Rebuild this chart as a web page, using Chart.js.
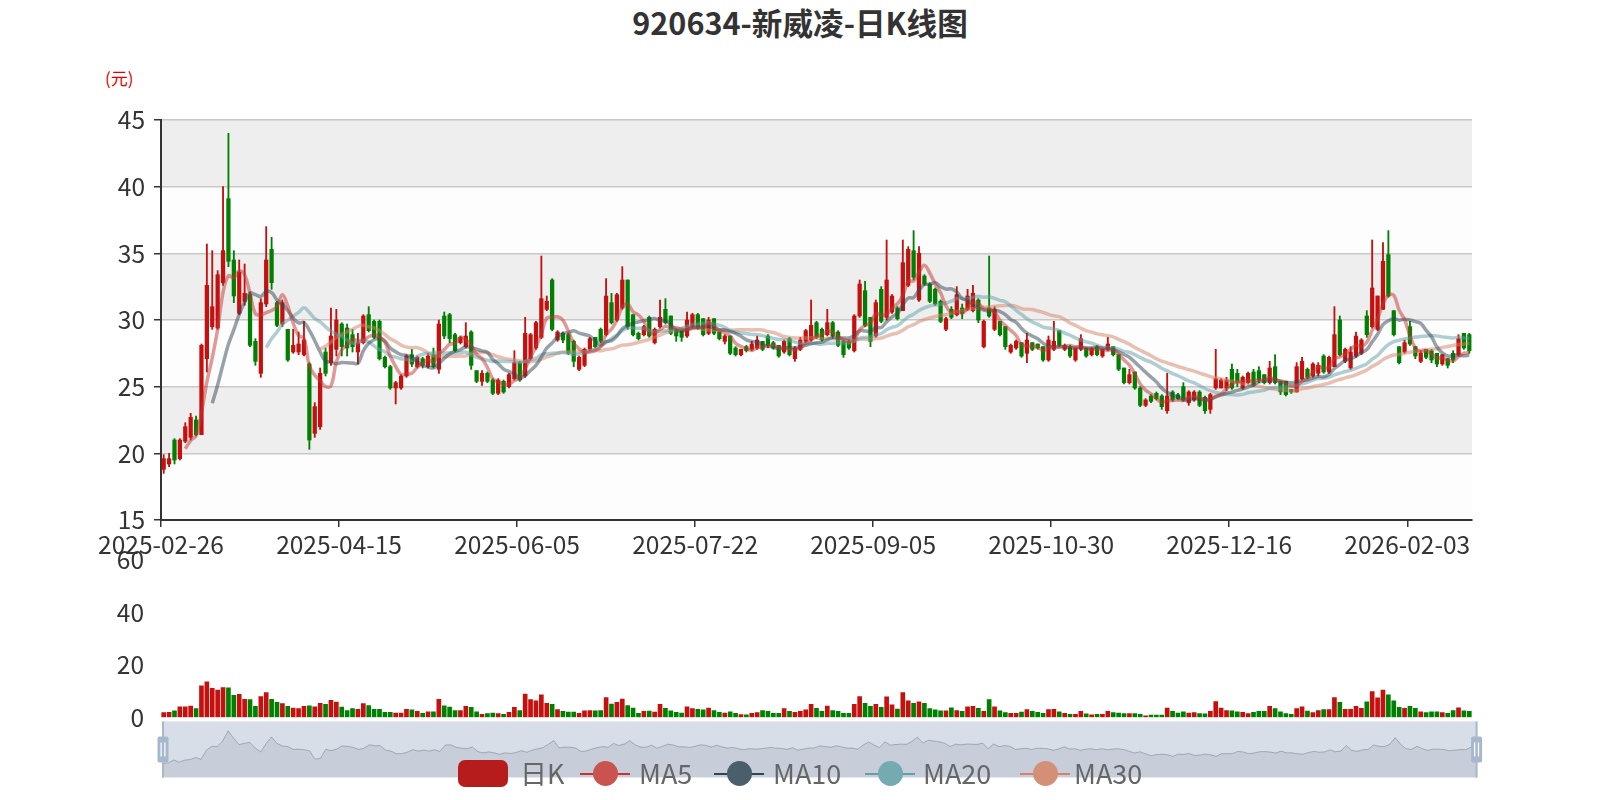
<!DOCTYPE html>
<html><head><meta charset="utf-8">
<script src="https://cdn.jsdelivr.net/npm/chart.js@4.4.1/dist/chart.umd.min.js"></script>
<style>
html,body{margin:0;padding:0;background:#fff;width:1600px;height:800px;overflow:hidden;font-family:"Noto Sans CJK SC","Noto Sans",sans-serif;}
canvas{position:absolute;}
#title{position:absolute;left:0;top:2px;width:1600px;text-align:center;font-weight:bold;font-size:30.6px;line-height:40px;color:#333;}
#unit{position:absolute;left:105px;top:66px;font-size:17px;line-height:24px;color:#e00000;}
.lg{position:absolute;top:760px;height:27px;line-height:27px;font-size:27px;color:#666;white-space:nowrap;}
.kicon{position:absolute;top:0;width:50px;height:27px;border-radius:7px;background:#b71c1c;}
.licon{position:absolute;top:0;width:50px;height:27px;}
.licon .ln{position:absolute;left:0;top:12.5px;width:50px;height:2px;}
.licon .dt{position:absolute;left:13px;top:1px;width:25px;height:25px;border-radius:50%;}
.lg .tx{position:absolute;top:-1px;}
</style></head>
<body>
<div id="title">920634-新威凌-日K线图</div>
<div id="unit">(元)</div>
<canvas id="c1" width="1600" height="575" style="left:0;top:0"></canvas>
<canvas id="c2" width="1600" height="221" style="left:0;top:528px"></canvas>
<canvas id="c3" width="1340" height="64" style="left:150px;top:718px"></canvas>
<div class="lg" style="left:0"><span class="kicon" style="left:458px"></span><span class="tx" style="left:520px">日K</span></div>
<div class="lg" style="left:0"><span class="licon" style="left:580px"><span class="ln" style="background:#c23531"></span><span class="dt" style="background:#c9534f"></span></span><span class="tx" style="left:639px">MA5</span></div>
<div class="lg" style="left:0"><span class="licon" style="left:714px"><span class="ln" style="background:#2f4554"></span><span class="dt" style="background:#4a5e6c"></span></span><span class="tx" style="left:773px">MA10</span></div>
<div class="lg" style="left:0"><span class="licon" style="left:865px"><span class="ln" style="background:#61a0a8"></span><span class="dt" style="background:#74aab1"></span></span><span class="tx" style="left:923px">MA20</span></div>
<div class="lg" style="left:0"><span class="licon" style="left:1020px"><span class="ln" style="background:#d48265"></span><span class="dt" style="background:#d48f77"></span></span><span class="tx" style="left:1074px">MA30</span></div>
<script>
const dates = ['2025-02-26','2025-02-27','2025-02-28',
'2025-03-03','2025-03-04','2025-03-05','2025-03-06','2025-03-07','2025-03-10','2025-03-11','2025-03-12','2025-03-13','2025-03-14','2025-03-17','2025-03-18','2025-03-19','2025-03-20','2025-03-21','2025-03-24','2025-03-25','2025-03-26','2025-03-27','2025-03-28','2025-03-31',
'2025-04-01','2025-04-02','2025-04-03','2025-04-07','2025-04-08','2025-04-09','2025-04-10','2025-04-11','2025-04-14','2025-04-15','2025-04-16','2025-04-17','2025-04-18','2025-04-21','2025-04-22','2025-04-23','2025-04-24','2025-04-25','2025-04-28','2025-04-29','2025-04-30',
'2025-05-06','2025-05-07','2025-05-08','2025-05-09','2025-05-12','2025-05-13','2025-05-14','2025-05-15','2025-05-16','2025-05-19','2025-05-20','2025-05-21','2025-05-22','2025-05-23','2025-05-26','2025-05-27','2025-05-28','2025-05-29','2025-05-30',
'2025-06-03','2025-06-04','2025-06-05','2025-06-06','2025-06-09','2025-06-10','2025-06-11','2025-06-12','2025-06-13','2025-06-16','2025-06-17','2025-06-18','2025-06-19','2025-06-20','2025-06-23','2025-06-24','2025-06-25','2025-06-26','2025-06-27','2025-06-30',
'2025-07-01','2025-07-02','2025-07-03','2025-07-04','2025-07-07','2025-07-08','2025-07-09','2025-07-10','2025-07-11','2025-07-14','2025-07-15','2025-07-16','2025-07-17','2025-07-18','2025-07-21','2025-07-22','2025-07-23','2025-07-24','2025-07-25','2025-07-28','2025-07-29','2025-07-30','2025-07-31',
'2025-08-01','2025-08-04','2025-08-05','2025-08-06','2025-08-07','2025-08-08','2025-08-11','2025-08-12','2025-08-13','2025-08-14','2025-08-15','2025-08-18','2025-08-19','2025-08-20','2025-08-21','2025-08-22','2025-08-25','2025-08-26','2025-08-27','2025-08-28','2025-08-29',
'2025-09-01','2025-09-02','2025-09-03','2025-09-04','2025-09-05','2025-09-08','2025-09-09','2025-09-10','2025-09-11','2025-09-12','2025-09-15','2025-09-16','2025-09-17','2025-09-18','2025-09-19','2025-09-22','2025-09-23','2025-09-24','2025-09-25','2025-09-26','2025-09-29','2025-09-30',
'2025-10-09','2025-10-10','2025-10-13','2025-10-14','2025-10-15','2025-10-16','2025-10-17','2025-10-20','2025-10-21','2025-10-22','2025-10-23','2025-10-24','2025-10-27','2025-10-28','2025-10-29','2025-10-30','2025-10-31',
'2025-11-03','2025-11-04','2025-11-05','2025-11-06','2025-11-07','2025-11-10','2025-11-11','2025-11-12','2025-11-13','2025-11-14','2025-11-17','2025-11-18','2025-11-19','2025-11-20','2025-11-21','2025-11-24','2025-11-25','2025-11-26','2025-11-27','2025-11-28',
'2025-12-01','2025-12-02','2025-12-03','2025-12-04','2025-12-05','2025-12-08','2025-12-09','2025-12-10','2025-12-11','2025-12-12','2025-12-15','2025-12-16','2025-12-17','2025-12-18','2025-12-19','2025-12-22','2025-12-23','2025-12-24','2025-12-25','2025-12-26','2025-12-29','2025-12-30','2025-12-31',
'2026-01-05','2026-01-06','2026-01-07','2026-01-08','2026-01-09','2026-01-12','2026-01-13','2026-01-14','2026-01-15','2026-01-16','2026-01-19','2026-01-20','2026-01-21','2026-01-22','2026-01-23','2026-01-26','2026-01-27','2026-01-28','2026-01-29','2026-01-30',
'2026-02-02','2026-02-03','2026-02-04','2026-02-05','2026-02-06','2026-02-09','2026-02-10','2026-02-11','2026-02-12','2026-02-13','2026-02-24','2026-02-25','2026-02-26'];

const tickLabels = ['2025-02-26','2025-04-15','2025-06-05','2025-07-22','2025-09-05','2025-10-30','2025-12-16','2026-02-03'];
const priceTicks = [15,20,25,30,35,40,45];
const volumeTicks = [0,20,40,60];

const openP = [18.8,19.2,21.0,19.6,20.9,21.2,22.5,21.4,27.1,29.5,29.4,32.8,39.1,34.5,30.5,31.4,31.9,28.4,26.0,31.2,
35.3,31.3,29.7,29.3,27.6,27.6,27.4,26.7,21.5,22.0,27.6,26.8,27.8,29.7,29.4,28.9,27.6,28.3,30.4,29.9,
29.9,27.2,26.5,24.9,24.9,25.8,27.4,26.5,27.1,26.5,27.4,26.3,30.3,30.4,28.9,28.3,28.0,29.1,26.2,25.4,
26.0,25.5,24.5,25.4,25.0,25.6,26.8,25.8,27.1,27.9,28.7,30.8,33.0,28.5,29.0,28.9,28.4,26.3,26.6,27.8,
28.7,29.3,28.9,31.3,30.0,30.9,33.0,30.4,29.0,28.9,30.2,28.3,29.5,30.8,30.3,29.2,29.2,28.8,29.5,30.4,
30.1,29.0,30.1,29.1,28.4,28.8,27.9,27.4,28.0,27.8,27.9,28.4,28.8,28.3,28.1,27.6,28.6,27.1,27.8,28.4,
28.5,29.8,29.3,28.9,29.8,29.1,28.4,28.4,27.7,30.3,32.2,30.2,28.8,32.3,30.2,30.6,30.9,30.7,32.6,35.2,
31.5,33.3,32.7,32.3,31.4,29.3,30.8,30.4,30.9,30.8,30.7,31.5,28.0,30.9,29.3,29.9,29.5,27.6,27.9,28.3,
27.5,28.3,28.2,28.0,27.0,27.8,29.2,27.8,28.0,27.0,27.8,27.9,27.4,28.0,27.3,27.8,28.0,27.4,26.4,25.3,
26.1,24.9,23.6,24.3,24.5,24.3,23.2,24.6,24.4,25.0,23.8,24.0,24.6,24.2,23.3,24.9,24.9,24.9,26.3,26.0,
24.9,25.3,26.1,26.2,25.9,25.3,26.5,25.4,25.4,24.8,24.6,25.6,26.3,25.8,26.0,27.3,26.1,26.5,30.0,26.9,
26.4,27.3,27.5,30.3,29.5,29.3,30.8,34.9,30.7,28.0,27.6,29.5,28.0,26.9,27.8,27.7,27.5,26.7,27.1,27.5,
27.4,29.0,28.9];

const closeP = [19.6,19.6,19.5,21.0,22.0,22.7,21.4,28.1,32.6,31.0,33.4,35.2,34.4,31.8,33.6,32.0,28.1,26.9,31.3,34.5,
32.8,29.6,31.3,27.0,28.1,28.2,28.5,21.0,23.5,26.0,26.0,28.8,30.0,28.0,27.9,28.0,28.3,30.3,29.2,28.7,
27.1,26.5,24.9,25.3,25.8,27.3,26.7,27.2,26.6,27.3,26.5,29.7,28.8,28.6,27.7,28.7,28.8,26.6,25.4,26.0,
25.4,24.5,25.5,24.6,25.9,26.8,25.5,29.0,28.9,29.8,31.6,31.4,29.3,29.1,28.5,27.5,26.9,27.2,27.8,28.6,
28.0,28.4,31.8,29.8,31.9,33.0,29.5,28.9,28.6,29.5,28.8,29.3,30.2,29.8,29.0,28.8,28.7,30.0,30.4,29.4,
28.9,30.0,29.0,28.6,28.8,27.5,27.4,27.8,27.7,28.2,28.5,27.8,28.1,27.9,27.3,28.4,27.4,27.9,28.5,29.2,
29.6,28.7,28.5,29.8,28.8,28.1,27.4,27.9,30.3,32.7,29.6,28.4,31.3,29.9,33.0,31.8,30.1,34.3,35.3,33.2,
35.0,32.7,31.4,31.2,29.9,30.1,30.2,31.9,30.5,31.8,32.0,30.0,29.9,30.3,30.8,28.9,28.0,28.1,28.4,27.3,
28.5,27.8,27.9,27.0,28.5,28.4,28.1,28.1,27.3,27.9,28.6,27.3,27.9,27.4,27.8,28.2,27.4,26.3,25.3,25.9,
24.9,23.6,24.0,23.9,24.1,23.5,24.3,24.0,24.1,24.0,24.6,24.6,23.6,23.2,24.4,25.6,25.5,25.5,24.9,25.3,
25.7,26.0,25.1,25.5,25.3,26.4,25.3,24.6,24.4,24.6,26.5,26.9,25.7,26.7,26.6,26.1,27.2,28.9,27.4,27.8,
27.6,28.8,28.5,28.9,32.4,31.8,34.4,31.8,28.9,26.8,28.3,28.2,27.3,27.5,27.2,27.0,26.7,27.4,26.6,27.0,
28.6,27.9,27.7];

const lowP = [18.5,19.0,19.2,19.5,20.8,21.0,21.3,21.4,26.1,29.3,29.3,32.6,34.0,31.3,30.4,31.1,28.0,26.6,25.7,31.0,
32.3,29.5,29.5,26.9,27.5,27.4,27.3,20.3,21.2,21.8,25.8,26.6,27.3,27.3,27.3,27.6,26.7,28.2,29.1,28.6,
27.0,26.4,24.8,23.7,24.8,25.7,26.5,26.4,26.4,26.4,26.4,26.0,28.6,28.3,27.6,28.2,27.9,26.3,25.3,25.1,
25.3,24.4,24.4,24.5,24.9,25.5,25.4,25.7,27.0,27.8,28.6,30.7,29.2,28.4,28.3,27.4,26.5,26.2,26.5,27.7,
27.9,28.3,28.8,29.7,29.9,30.8,29.3,28.8,28.5,28.8,28.7,28.2,29.4,29.7,28.9,28.4,28.4,28.7,29.4,29.3,
28.8,28.9,28.9,28.5,28.2,27.4,27.3,27.3,27.6,27.7,27.8,27.7,27.9,27.8,27.2,27.5,27.3,26.9,27.7,28.3,
28.4,28.6,28.4,28.8,28.6,28.0,27.2,27.8,27.6,30.2,29.5,28.0,28.7,29.8,30.0,30.5,30.0,30.7,32.5,33.0,
31.4,32.6,31.3,31.1,29.8,29.2,30.1,30.3,30.1,30.7,30.6,29.8,27.9,30.2,29.2,28.8,27.8,27.5,27.8,27.2,
26.8,27.7,27.8,26.9,26.9,27.7,28.0,27.7,27.2,26.9,27.7,27.2,27.3,27.3,27.2,27.7,27.3,26.2,25.2,25.2,
24.8,23.5,23.5,23.8,24.0,23.3,23.0,23.9,24.0,23.9,23.6,23.9,23.5,23.0,23.0,24.8,24.9,24.7,24.8,25.0,
24.8,25.2,25.0,25.3,25.2,25.2,25.2,24.4,24.3,24.5,24.6,25.5,25.6,25.7,25.8,26.0,26.0,26.5,27.3,26.8,
26.3,27.2,27.4,28.7,29.4,29.2,30.8,31.7,28.8,26.7,27.5,28.1,27.1,26.8,27.1,26.8,26.5,26.6,26.4,26.8,
27.3,27.8,27.5];

const highP = [19.9,20.0,21.1,21.1,22.3,23.0,22.8,28.2,35.7,35.2,33.7,40.0,44.0,35.2,34.5,34.2,32.1,28.6,31.6,37.0,
36.2,31.4,31.5,29.3,29.3,29.1,29.9,26.8,23.8,26.4,27.9,30.9,30.8,29.8,29.7,29.3,29.0,30.4,31.0,30.0,
30.0,27.3,26.6,25.4,25.9,27.4,27.8,27.3,27.2,27.5,27.9,30.0,30.6,30.5,29.0,28.8,29.8,29.2,26.2,26.2,
26.1,25.6,25.6,25.5,26.0,27.7,26.9,30.2,29.0,29.9,34.8,31.8,33.1,29.2,29.1,29.0,28.5,27.3,27.9,28.7,
28.7,29.4,33.1,32.0,32.0,34.0,33.0,30.4,29.1,29.6,30.3,29.4,31.5,31.6,30.3,29.3,29.2,30.6,30.5,30.5,
30.1,30.2,30.1,29.1,28.9,28.8,28.0,27.8,28.1,28.4,28.8,28.4,28.9,28.4,28.1,28.5,28.7,28.0,28.7,29.3,
31.5,29.9,29.4,30.8,29.9,29.2,28.5,28.5,30.4,33.0,32.9,30.2,31.5,32.5,36.0,31.9,31.0,36.0,35.5,36.7,
35.5,33.4,32.8,32.4,31.5,30.2,31.0,32.5,31.2,32.3,32.6,31.6,30.0,34.8,31.0,29.9,29.5,28.2,28.5,28.3,
29.0,28.3,28.2,28.0,28.8,29.9,29.2,28.2,28.1,27.9,28.9,27.9,27.9,28.1,27.8,28.7,28.0,27.4,26.4,26.3,
26.1,25.0,24.1,24.4,24.6,24.4,26.0,24.7,24.5,25.3,24.7,24.7,24.7,24.3,24.5,27.8,25.6,25.7,26.7,26.3,
25.8,26.1,26.3,26.5,25.9,26.9,27.4,25.4,25.4,24.8,26.8,27.2,26.4,26.8,26.8,27.4,27.3,31.0,30.3,27.9,
28.0,29.1,28.6,30.7,36.0,31.8,35.8,36.7,30.7,28.0,28.5,29.9,28.0,27.7,27.8,27.8,27.5,27.4,27.1,27.7,
28.9,29.0,29.0];

const volumes = [1.8,1.9,2.5,4.0,4.0,4.3,3.3,12.0,13.5,11.0,10.4,11.3,11.2,8.4,8.7,6.8,6.7,4.2,7.9,9.4,
6.8,5.7,5.2,4.2,3.5,3.3,4.2,4.4,4.0,5.3,4.9,6.5,5.8,3.9,2.6,3.3,3.0,5.2,4.5,3.0,
3.0,1.9,1.9,1.6,1.6,3.0,2.8,2.3,1.5,2.1,2.1,6.8,4.4,3.9,2.6,2.6,4.2,3.8,2.1,1.1,
1.4,1.6,1.4,1.1,1.9,3.8,2.6,8.8,6.7,6.3,8.6,5.3,4.9,2.9,2.3,2.0,2.0,1.5,2.5,2.6,
2.5,2.6,7.5,5.0,5.7,6.9,4.5,3.5,1.5,2.3,2.4,2.0,4.9,3.4,2.5,1.9,1.6,4.0,3.3,3.0,
2.8,3.5,2.6,1.9,1.6,2.1,1.5,1.0,0.9,1.5,1.8,2.6,2.3,1.5,1.5,3.3,2.3,1.9,2.3,2.8,
4.9,3.4,2.3,4.3,2.6,2.3,1.5,1.5,4.9,7.9,5.3,4.2,4.9,3.8,7.8,4.7,3.1,9.4,6.3,5.3,
5.9,5.3,3.3,2.8,2.5,2.5,3.6,2.6,2.3,4.0,4.2,3.4,2.3,6.7,4.0,2.5,1.8,1.5,1.5,2.0,
2.9,2.3,1.9,1.5,2.9,3.0,2.1,1.5,1.1,1.1,2.3,1.3,0.9,1.1,1.1,2.3,1.8,1.6,1.4,1.4,
1.4,1.1,0.6,0.8,0.8,0.8,3.5,2.3,1.6,2.1,1.6,1.8,1.4,1.3,2.3,6.0,3.5,2.6,2.5,2.1,
1.9,1.4,1.9,2.3,2.3,4.2,3.3,2.1,1.4,1.1,3.3,4.0,2.4,1.8,2.6,2.9,2.9,7.5,5.7,3.0,
3.0,4.2,3.4,5.9,9.8,7.4,10.4,8.6,6.3,3.8,3.4,4.2,3.4,2.1,1.8,2.1,2.1,1.8,1.5,2.6,
3.6,2.5,2.3];

const UP = 'rgb(198,16,14)', DOWN = 'rgb(0,128,0)';
const FONT = '"Noto Sans CJK SC","Noto Sans",sans-serif';
const candleColors = closeP.map((c, i) => c >= openP[i] ? UP : DOWN);

function movingAverage(n) {
  return closeP.map((c, i) => {
    if (i < n - 1) return null;
    let s = 0;
    for (let k = i - n + 1; k <= i; k++) s += closeP[k];
    return +(s / n).toFixed(3);
  });
}

const bandPlugin = {
  id: 'bands',
  beforeDraw(chart) {
    const {ctx, chartArea: a, scales: {y}} = chart;
    ctx.save();
    for (let k = 0; k < priceTicks.length - 1; k++) {
      const y1 = y.getPixelForValue(priceTicks[k + 1]);
      const y2 = y.getPixelForValue(priceTicks[k]);
      ctx.fillStyle = k % 2 === 0 ? 'rgba(250,250,250,0.3)' : 'rgba(200,200,200,0.3)';
      ctx.fillRect(a.left, y1, a.right - a.left, y2 - y1);
    }
    ctx.restore();
  }
};

const tickFont = {family: FONT, size: 24.5};

new Chart(document.getElementById('c1'), {
  type: 'bar',
  data: {
    labels: dates,
    datasets: [
      {type: 'line', label: 'MA5', data: movingAverage(5), borderColor: 'rgba(194,53,49,0.5)', borderWidth: 3.5, pointRadius: 0, tension: 0.4, order: 0},
      {type: 'line', label: 'MA10', data: movingAverage(10), borderColor: 'rgba(47,69,84,0.5)', borderWidth: 3.5, pointRadius: 0, tension: 0.4, order: 0},
      {type: 'line', label: 'MA20', data: movingAverage(20), borderColor: 'rgba(97,160,168,0.5)', borderWidth: 3.5, pointRadius: 0, tension: 0.4, order: 0},
      {type: 'line', label: 'MA30', data: movingAverage(30), borderColor: 'rgba(212,130,101,0.5)', borderWidth: 3.5, pointRadius: 0, tension: 0.4, order: 0},
      {label: '日K', data: dates.map((d, i) => [openP[i], closeP[i]]), backgroundColor: candleColors, barThickness: 3.6, grouped: false, order: 2},
      {label: 'wick', data: dates.map((d, i) => [lowP[i], highP[i]]), backgroundColor: candleColors, barThickness: 1.2, grouped: false, order: 3}
    ]
  },
  options: {
    responsive: false, animation: false, devicePixelRatio: 1,
    layout: {padding: {left: 0, right: 128, top: 120, bottom: 0}},
    plugins: {legend: {display: false}, tooltip: {enabled: false}},
    scales: {
      x: {
        offset: true,
        grid: {display: true, offset: true, drawOnChartArea: false, drawTicks: true, tickLength: 7, lineWidth: 1.5,
               color: ctx => (ctx.tick && tickLabels.includes(dates[ctx.index])) ? '#333' : 'rgba(0,0,0,0)'},
        border: {display: true, color: '#333', width: 2},
        ticks: {autoSkip: false, maxRotation: 0, minRotation: 0, color: '#333', font: tickFont, padding: 3, labelOffset: -2.7,
                callback: (v, i) => tickLabels.includes(dates[i]) ? dates[i] : ''},
        afterFit: s => { s.height = 55; }
      },
      y: {
        min: 15, max: 45,
        afterBuildTicks: s => { s.ticks = priceTicks.map(v => ({value: v})); },
        ticks: {color: '#333', font: tickFont, padding: 9},
        grid: {color: '#c8c8c8', lineWidth: 1.5, tickLength: 7, tickColor: '#333'},
        border: {display: true, color: '#333', width: 2},
        afterFit: s => { s.width = 161; }
      }
    }
  },
  plugins: [bandPlugin]
});

new Chart(document.getElementById('c2'), {
  type: 'bar',
  data: {labels: dates, datasets: [{label: 'Volume', data: volumes, backgroundColor: candleColors, barThickness: 4}]},
  options: {
    responsive: false, animation: false, devicePixelRatio: 1,
    layout: {padding: {left: 0, right: 128, top: 0, bottom: 0}},
    plugins: {legend: {display: false}, tooltip: {enabled: false}},
    scales: {
      x: {display: false, offset: true},
      y: {
        min: 0, max: 60,
        afterBuildTicks: s => { s.ticks = volumeTicks.map(v => ({value: v})); },
        ticks: {color: '#333', font: tickFont, padding: 17},
        grid: {display: false, drawTicks: false},
        border: {display: false},
        afterFit: s => { s.width = 161; }
      }
    }
  }
});

const sliderPlugin = {
  id: 'slider',
  beforeDraw(chart) {
    const {ctx, chartArea: a} = chart;
    ctx.save();
    ctx.fillStyle = 'rgb(216,222,232)';
    ctx.fillRect(a.left, a.top, a.right - a.left, a.bottom - a.top);
    ctx.restore();
  },
  afterDraw(chart) {
    const {ctx, chartArea: a} = chart;
    ctx.save();
    ctx.fillStyle = 'rgb(167,183,204)';
    ctx.fillRect(a.left - 1, a.top, 2, a.bottom - a.top);
    ctx.fillRect(a.right - 1, a.top, 2, a.bottom - a.top);
    const cy = (a.top + a.bottom) / 2;
    [a.left, a.right].forEach(x => {
      ctx.fillStyle = 'rgb(167,183,204)';
      ctx.beginPath();
      ctx.roundRect(x - 5.5, cy - 13, 11, 26, 2);
      ctx.fill();
      ctx.fillStyle = '#fff';
      ctx.fillRect(x - 2.5, cy - 7, 1.2, 14);
      ctx.fillRect(x + 1.3, cy - 7, 1.2, 14);
    });
    ctx.restore();
  }
};

new Chart(document.getElementById('c3'), {
  type: 'line',
  data: {labels: dates, datasets: [{label: 'shadow', data: openP, borderColor: 'rgba(47,69,84,0.3)', borderWidth: 1, backgroundColor: 'rgba(47,69,84,0.1)', fill: 'start', pointRadius: 0, tension: 0}]},
  options: {
    responsive: false, animation: false, devicePixelRatio: 1,
    layout: {padding: {left: 13, right: 13.4, top: 3.4, bottom: 4.4}},
    plugins: {legend: {display: false}, tooltip: {enabled: false}},
    scales: {x: {display: false}, y: {display: false, min: 10, max: 45}}
  },
  plugins: [sliderPlugin]
});
</script>
</body></html>
